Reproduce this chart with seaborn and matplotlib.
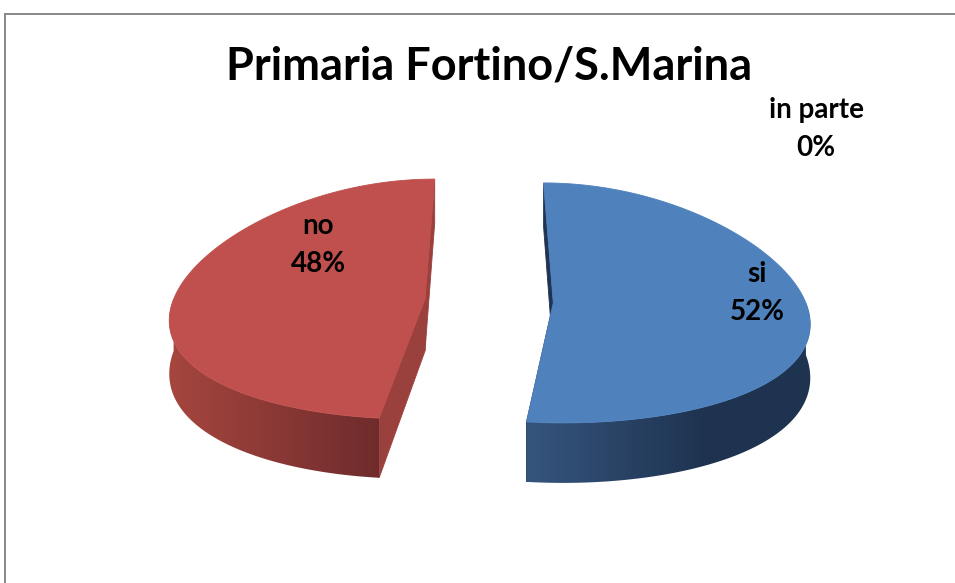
import numpy as np
import matplotlib
matplotlib.use("Agg")
import matplotlib.pyplot as plt
import seaborn as sns
from matplotlib.patches import Polygon
from matplotlib.colors import to_rgb
from matplotlib.lines import Line2D

sns.set_theme(style="white")
plt.rcParams['font.family'] = ['Lato', 'DejaVu Sans']

# ---- data ----
title = "Primaria Fortino/S.Marina"
categories = ["si", "no", "in parte"]
percent = [52, 48, 0]

# ---- colours (top face, wall light end, wall dark end, cut face) ----
top_colors = sns.color_palette(["#4F81BD", "#C0504D", "#9BBB59"])
wall_light = ["#36557E", "#A6463F", "#7D9A44"]
wall_dark = ["#1E3350", "#6F2B2C", "#4F6A2A"]
cut_colors = ["#1F3452", "#9A403D", "#5E7A33"]

# label anchor (centre of the two-line label) for each category
label_pos = [(757, 293), (318, 245), (816, 129)]

# ---- 3-D projection of the tilted disc ----
X0, Y0 = 489.0, 301.0      # screen centre of the pie
A, B = 252.0, 120.0         # horizontal / vertical radius
K = 0.151                   # perspective widening toward the viewer
DEPTH = 52.0                # thickness of the disc
EXPLODE = 0.255             # radial offset of each slice


def proj(u, v, z=0.0):
    s = 1.0 + K * v
    return X0 + A * u * s, Y0 + B * v + z * DEPTH * s


def rim(theta_deg, off):
    t = np.radians(theta_deg)
    return np.sin(t) + off[0], -np.cos(t) + off[1]


fig = plt.figure(figsize=(9.55, 5.83), dpi=100)
ax = fig.add_axes([0, 0, 1, 1])
ax.set_xlim(0, 955)
ax.set_ylim(583, 0)
ax.axis("off")

total = float(sum(percent))
start = 0.0
for i, (cat, p) in enumerate(zip(categories, percent)):
    sweep = 360.0 * p / total
    a0, a1 = start, start + sweep
    start = a1
    if sweep <= 0:
        continue
    mid = np.radians((a0 + a1) / 2.0)
    off = (EXPLODE * np.sin(mid), -EXPLODE * np.cos(mid))

    # cut faces along the two straight edges
    for edge in (a0, a1):
        ru, rv = rim(edge, off)
        pts = [proj(off[0], off[1], 0), proj(ru, rv, 0),
               proj(ru, rv, 1), proj(off[0], off[1], 1)]
        ax.add_patch(Polygon(pts, closed=True, facecolor=cut_colors[i],
                             edgecolor=cut_colors[i], lw=0.6, zorder=1))

    # outer wall on the near half of the rim, shaded left to right
    w0, w1 = max(a0, 90.0), min(a1, 270.0)
    if w1 > w0:
        thetas = np.linspace(w0, w1, 200)
        top = [proj(*rim(t, off), 0) for t in thetas]
        bot = [proj(*rim(t, off), 1) for t in thetas[::-1]]
        wall = Polygon(top + bot, closed=True, facecolor="none",
                       edgecolor="none", zorder=2)
        ax.add_patch(wall)
        xs = [q[0] for q in top + bot]
        ys = [q[1] for q in top + bot]
        xmin, xmax = min(xs), max(xs)
        ymin, ymax = min(ys), max(ys)
        f = np.linspace(0, 1, 256)
        if i == 0:
            f = np.clip(f * 1.6, 0, 1)
        c_l, c_d = np.array(to_rgb(wall_light[i])), np.array(to_rgb(wall_dark[i]))
        grad = (c_l[None, :] * (1 - f[:, None]) + c_d[None, :] * f[:, None])[None, :, :]
        im = ax.imshow(grad, extent=(xmin - 1, xmax + 1, ymax + 1, ymin - 1),
                       aspect="auto", interpolation="bilinear", zorder=2)
        im.set_clip_path(wall)

    # top face
    thetas = np.linspace(a0, a1, 240)
    pts = [proj(off[0], off[1], 0)] + [proj(*rim(t, off), 0) for t in thetas]
    ax.add_patch(Polygon(pts, closed=True, facecolor=top_colors[i],
                         edgecolor=top_colors[i], lw=0.6, zorder=3))

ax.set_xlim(0, 955)
ax.set_ylim(583, 0)

# data labels
for cat, p, (lx, ly) in zip(categories, percent, label_pos):
    ax.text(lx, ly, f"{cat}\n{p}%", ha="center", va="center", fontsize=20,
            fontweight="bold", color="black", linespacing=1.55, zorder=5)

# chart title
ax.text(489, 66, title, ha="center", va="center", fontsize=32.5,
        fontweight="bold", color="black", zorder=5)

# chart-area frame (left and top edges)
fig.add_artist(Line2D([5 / 955, 5 / 955], [0, 1 - 14 / 583], color="#878787", lw=1.4))
fig.add_artist(Line2D([5 / 955, 1], [1 - 14 / 583, 1 - 14 / 583], color="#878787", lw=1.4))

fig.savefig("out.png", dpi=100)
